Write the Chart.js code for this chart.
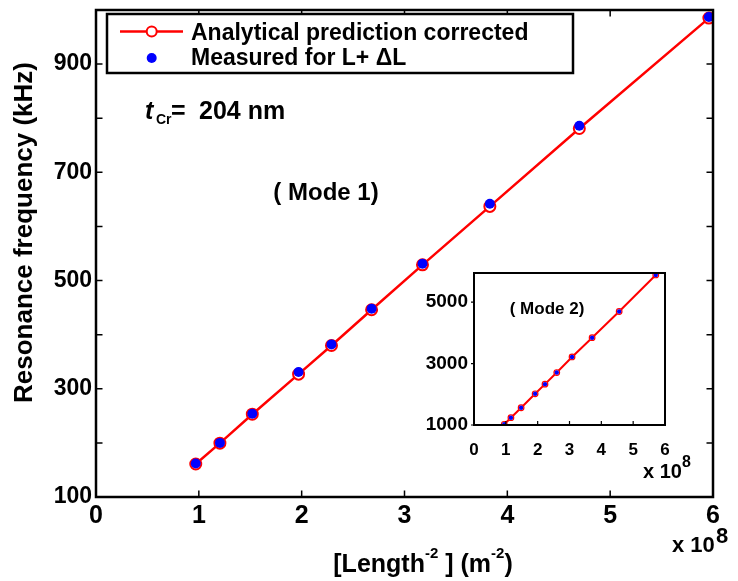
<!DOCTYPE html>
<html><head><meta charset="utf-8">
<script src="https://cdn.jsdelivr.net/npm/chart.js@4.4.0/dist/chart.umd.min.js"></script>
<style>
html,body{margin:0;padding:0;background:#fff;}
#wrap{position:relative;width:738px;height:581px;overflow:hidden;}
#main{position:absolute;left:0;top:0;}
#inset{position:absolute;left:414px;top:262px;}
</style></head><body>
<div id="wrap">
<canvas id="main" width="738" height="581"></canvas>
<canvas id="inset" width="324" height="228"></canvas>
</div>
<script>
// ---- data (x in units of 1e8 m^-2, y in kHz) ----
const lengthInvSqMode1 = [0.97, 1.205, 1.52, 1.97, 2.29, 2.68, 3.175, 3.83, 4.70, 5.96];
const analyticalMode1  = [161, 199.5, 253, 327, 380, 446, 529, 637, 781, 985];
const measuredMode1    = [162, 200, 254, 331, 382, 448, 531, 642, 786, 987];
const lengthInvSqMode2 = [0.95, 1.16, 1.48, 1.92, 2.23, 2.60, 3.08, 3.71, 4.56, 5.71];
const analyticalMode2  = [1022, 1238, 1562, 2016, 2330, 2708, 3216, 3843, 4697, 5886];
const measuredMode2    = [1022, 1238, 1562, 2016, 2330, 2708, 3216, 3843, 4697, 5886];
const seriesLabels = ['Analytical prediction corrected', 'Measured for L+ \u0394L'];
const xTicksMain = [0, 1, 2, 3, 4, 5, 6];
const yLabelTicksMain = [100, 300, 500, 700, 900];
const yMarkTicksMain = [100, 200, 300, 400, 500, 600, 700, 800, 900, 1000];
const xTicksInset = [0, 1, 2, 3, 4, 5, 6];
const yTicksInset = [1000, 3000, 5000];

const FF = "'Liberation Sans', Arial, Helvetica, sans-serif";
const RED = '#ff0000', BLUE = '#0000ff';
const toXY = (xs, ys) => xs.map((x, i) => ({x: x, y: ys[i]}));
const fnt = (s, style) => (style || '') + ' bold ' + s + 'px ' + FF;
const noPadX = s => { s.paddingLeft = 0; s.paddingRight = 0; };
const noPadY = s => { s.paddingTop = 0; s.paddingBottom = 0; };

const mainDecor = {
  id: 'mainDecor',
  afterDraw(chart) {
    const {ctx, chartArea: a, scales: {x, y}} = chart;
    ctx.save();
    // frame
    ctx.strokeStyle = '#000'; ctx.lineWidth = 2.5;
    ctx.strokeRect(a.left, a.top, a.right - a.left, a.bottom - a.top);
    // inward ticks on all four sides
    ctx.lineWidth = 1.5; ctx.beginPath();
    xTicksMain.forEach(v => { const px = x.getPixelForValue(v);
      ctx.moveTo(px, a.bottom); ctx.lineTo(px, a.bottom - 6.5);
      ctx.moveTo(px, a.top); ctx.lineTo(px, a.top + 6.5); });
    yMarkTicksMain.forEach(v => { const py = y.getPixelForValue(v);
      ctx.moveTo(a.left, py); ctx.lineTo(a.left + 6.5, py);
      ctx.moveTo(a.right, py); ctx.lineTo(a.right - 6.5, py); });
    ctx.stroke();
    // legend box
    ctx.fillStyle = '#fff'; ctx.fillRect(107, 14, 466, 59);
    ctx.lineWidth = 2.5; ctx.strokeStyle = '#000'; ctx.strokeRect(107, 14, 466, 59);
    const dsA = chart.data.datasets.find(d => d.label === seriesLabels[0]);
    const dsM = chart.data.datasets.find(d => d.label === seriesLabels[1]);
    ctx.strokeStyle = dsA.borderColor; ctx.lineWidth = dsA.borderWidth;
    ctx.beginPath(); ctx.moveTo(120, 31.5); ctx.lineTo(183, 31.5); ctx.stroke();
    ctx.fillStyle = '#fff'; ctx.lineWidth = 2;
    ctx.beginPath(); ctx.arc(151.7, 31.5, 5, 0, Math.PI * 2); ctx.fill(); ctx.stroke();
    ctx.fillStyle = dsM.pointBackgroundColor;
    ctx.beginPath(); ctx.arc(151.7, 58, 5, 0, Math.PI * 2); ctx.fill();
    ctx.fillStyle = '#000'; ctx.font = fnt(23); ctx.textBaseline = 'alphabetic'; ctx.textAlign = 'left';
    ctx.fillText(dsA.label, 191, 39.5);
    ctx.fillText(dsM.label, 191, 65);
    // t_Cr = 204 nm
    ctx.font = fnt(25, 'italic'); ctx.fillText('t', 145, 119);
    ctx.font = fnt(14); ctx.fillText('Cr', 156, 124);
    ctx.font = fnt(25); ctx.fillText('=', 171, 119); ctx.fillText('204 nm', 199, 119);
    // (Mode 1)
    ctx.textAlign = 'center'; ctx.font = fnt(24); ctx.fillText('( Mode 1)', 326, 200);
    // axis multiplier
    ctx.textAlign = 'left'; ctx.font = fnt(22);
    ctx.fillText('x 10', 672, 552); ctx.fillText('8', 716, 543);
    // x-axis title with superscripts
    const parts = [['[Length', 25, 0], ['-2', 15, -14], [' ] (m', 25, 0], ['-2', 15, -14], [')', 25, 0]];
    let tot = 0; parts.forEach(p => { ctx.font = fnt(p[1]); tot += ctx.measureText(p[0]).width; });
    let cx = 423 - tot / 2;
    parts.forEach(p => { ctx.font = fnt(p[1]); ctx.fillText(p[0], cx, 571.5 + p[2]); cx += ctx.measureText(p[0]).width; });
    // y-axis title
    ctx.save(); ctx.translate(32, 232.5); ctx.rotate(-Math.PI / 2);
    ctx.textAlign = 'center'; ctx.font = fnt(26); ctx.fillText('Resonance frequency (kHz)', 0, 0);
    ctx.restore();
    ctx.restore();
  }
};

new Chart(document.getElementById('main'), {
  type: 'scatter',
  data: { datasets: [
    { label: seriesLabels[1], data: toXY(lengthInvSqMode1, measuredMode1), showLine: false,
      pointRadius: 5, pointBorderWidth: 0, pointBackgroundColor: BLUE, pointBorderColor: BLUE, order: 0 },
    { label: seriesLabels[0], data: toXY(lengthInvSqMode1, analyticalMode1), showLine: true,
      borderColor: RED, borderWidth: 2.5, pointRadius: 5.5, pointBorderWidth: 2,
      pointBorderColor: RED, pointBackgroundColor: '#ffffff', order: 1 }
  ]},
  options: {
    responsive: false, animation: false, events: [],
    layout: { padding: { top: 10, right: 25, left: 0, bottom: 0 } },
    plugins: { legend: { display: false }, tooltip: { enabled: false } },
    scales: {
      x: { type: 'linear', min: 0, max: 6,
        grid: { display: false, drawTicks: false }, border: { display: false },
        afterBuildTicks: s => { s.ticks = xTicksMain.map(v => ({value: v})); },
        afterFit: s => { s.height = 84; noPadX(s); },
        ticks: { autoSkip: false, maxRotation: 0, padding: 4, color: '#000',
          font: { family: FF, size: 25, weight: 'bold' }, callback: v => String(v) } },
      y: { type: 'linear', min: 100, max: 1000,
        grid: { display: false, drawTicks: false }, border: { display: false },
        afterBuildTicks: s => { s.ticks = yLabelTicksMain.map(v => ({value: v})); },
        afterFit: s => { s.width = 96; noPadY(s); },
        ticks: { autoSkip: false, padding: 4, color: '#000',
          font: { family: FF, size: 23, weight: 'bold' }, callback: v => String(v) } }
    }
  },
  plugins: [mainDecor]
});

const insetDecor = {
  id: 'insetDecor',
  beforeDatasetsDraw(chart) {
    const {ctx, chartArea: a} = chart;
    ctx.save(); ctx.fillStyle = '#fff';
    ctx.fillRect(a.left, a.top, a.right - a.left, a.bottom - a.top); ctx.restore();
  },
  afterDraw(chart) {
    const {ctx, chartArea: a, scales: {x, y}} = chart;
    ctx.save();
    ctx.strokeStyle = '#000'; ctx.lineWidth = 2;
    ctx.strokeRect(a.left, a.top, a.right - a.left, a.bottom - a.top);
    ctx.lineWidth = 1.2; ctx.beginPath();
    xTicksInset.forEach(v => { const px = x.getPixelForValue(v);
      ctx.moveTo(px, a.bottom); ctx.lineTo(px, a.bottom - 4); });
    yTicksInset.forEach(v => { const py = y.getPixelForValue(v);
      ctx.moveTo(a.left, py); ctx.lineTo(a.left - 3, py); });
    ctx.stroke();
    ctx.fillStyle = '#000'; ctx.textBaseline = 'alphabetic';
    ctx.textAlign = 'center'; ctx.font = fnt(17); ctx.fillText('( Mode 2)', 133, 51.5);
    ctx.textAlign = 'left'; ctx.font = fnt(20); ctx.fillText('x 10', 229, 216);
    ctx.font = fnt(16); ctx.fillText('8', 268, 205);
    ctx.restore();
  }
};

new Chart(document.getElementById('inset'), {
  type: 'scatter',
  data: { datasets: [
    { label: seriesLabels[1], data: toXY(lengthInvSqMode2, measuredMode2), showLine: false,
      pointRadius: 2.2, pointBorderWidth: 0, pointBackgroundColor: BLUE, pointBorderColor: BLUE, order: 0 },
    { label: seriesLabels[0], data: toXY(lengthInvSqMode2, analyticalMode2), showLine: true,
      borderColor: RED, borderWidth: 2, pointRadius: 2.8, pointBorderWidth: 1.2,
      pointBorderColor: RED, pointBackgroundColor: '#ffffff', order: 1 }
  ]},
  options: {
    responsive: false, animation: false, events: [],
    layout: { padding: { top: 11, right: 73, left: 0, bottom: 0 } },
    plugins: { legend: { display: false }, tooltip: { enabled: false } },
    scales: {
      x: { type: 'linear', min: 0, max: 6,
        grid: { display: false, drawTicks: false }, border: { display: false },
        afterBuildTicks: s => { s.ticks = xTicksInset.map(v => ({value: v})); },
        afterFit: s => { s.height = 65; noPadX(s); },
        ticks: { autoSkip: false, maxRotation: 0, padding: 15, color: '#000',
          font: { family: FF, size: 17, weight: 'bold' }, callback: v => String(v) } },
      y: { type: 'linear', min: 1000, max: 5950,
        grid: { display: false, drawTicks: false }, border: { display: false },
        afterBuildTicks: s => { s.ticks = yTicksInset.map(v => ({value: v})); },
        afterFit: s => { s.width = 60; noPadY(s); },
        ticks: { autoSkip: false, padding: 6, color: '#000',
          font: { family: FF, size: 19, weight: 'bold' }, callback: v => String(v) } }
    }
  },
  plugins: [insetDecor]
});
</script>
</body></html>
